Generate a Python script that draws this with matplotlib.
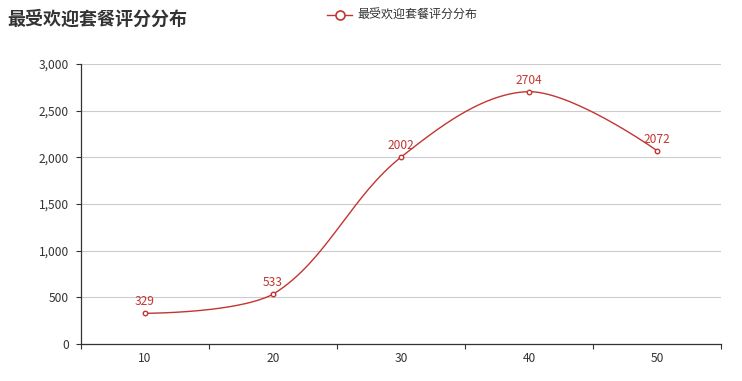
import numpy as np
import matplotlib
matplotlib.use("Agg")
import matplotlib.pyplot as plt
from matplotlib.lines import Line2D
from matplotlib.ticker import FuncFormatter

plt.rcParams['font.family'] = ['Noto Sans CJK SC', 'DejaVu Sans']

# data
categories = ['10', '20', '30', '40', '50']
values = [329, 533, 2002, 2704, 2072]
series_name = '最受欢迎套餐评分分布'
title = '最受欢迎套餐评分分布'

RED = '#c23531'
W, H = 742, 381
PX = 0.72  # px -> pt at dpi 100


def echarts_smooth(pts, smooth=0.35):
    # bezier smoothing like the echarts line series, done in pixel space
    pts = np.asarray(pts, float)
    lo, hi = pts.min(axis=0), pts.max(axis=0)
    n = len(pts)
    out = [pts[0]]
    cp0 = pts[0].copy()
    t = np.linspace(0, 1, 60)[1:, None]
    for i in range(1, n):
        p = pts[i]
        if i + 1 < n:
            prev, nxt = pts[i - 1], pts[i + 1]
            v = nxt - prev
            lp = np.hypot(*(p - prev))
            ln = np.hypot(*(p - nxt))
            r = ln / (ln + lp)
            cp1 = p - v * smooth * (1 - r)
        else:
            v = np.zeros(2)
            r = 0.5
            cp1 = p.copy()
        cp0 = np.clip(cp0, lo, hi)
        cp1 = np.clip(cp1, lo, hi)
        seg = ((1 - t) ** 3) * pts[i - 1] + 3 * ((1 - t) ** 2) * t * cp0 \
            + 3 * (1 - t) * t ** 2 * cp1 + t ** 3 * p
        out.extend(seg)
        cp0 = p + v * smooth * r
    return np.array(out)


fig = plt.figure(figsize=(W / 100, H / 100), dpi=100)
ax = fig.add_axes([81 / W, (H - 344) / H, 640 / W, 280 / H])

x = np.arange(len(categories))
ax.set_xlim(-0.5, len(categories) - 0.5)
ax.set_ylim(0, 3000)

# smooth curve computed in display coords
disp = ax.transData.transform(np.column_stack([x, values]))
curve = ax.transData.inverted().transform(echarts_smooth(disp))
ax.plot(curve[:, 0], curve[:, 1], color=RED, lw=1.0, zorder=3)
ax.plot(x, values, ls='none', marker='o', ms=4.5 * PX, mfc='white',
        mec=RED, mew=1.0, zorder=4)

for xi, v in zip(x, values):
    ax.annotate(str(v), (xi, v), xytext=(0, 3.5), textcoords='offset points',
                ha='center', va='bottom', color=RED, fontsize=12 * PX)

# axes styling
ax.set_yticks(np.arange(0, 3001, 500))
ax.yaxis.set_major_formatter(FuncFormatter(lambda v, p: f'{int(v):,}'))
ax.grid(axis='y', color='#cccccc', lw=0.8)
ax.set_axisbelow(True)
ax.set_xticks(np.arange(-0.5, len(categories), 1.0))
ax.set_xticklabels([])
ax.set_xticks(x, minor=True)
ax.set_xticklabels(categories, minor=True)
ax.tick_params(axis='x', which='minor', length=0, pad=6, labelsize=12 * PX,
               labelcolor='#333333')
ax.tick_params(axis='x', which='major', length=5 * PX, color='#333333',
               width=0.8)
ax.tick_params(axis='y', length=5 * PX, color='#333333', width=0.8,
               labelsize=12 * PX, labelcolor='#333333', pad=5)
for s in ['top', 'right']:
    ax.spines[s].set_visible(False)
for s in ['left', 'bottom']:
    ax.spines[s].set_color('#333333')
    ax.spines[s].set_linewidth(0.9)

# title
fig.text(7 / W, 1 - 19 / H, title, fontsize=18 * PX, fontweight='bold',
         color='#333333', va='center', ha='left')

# legend
ly = 1 - 15 / H
fig.add_artist(Line2D([327 / W, 352 / W], [ly, ly], color=RED, lw=1.0,
                      transform=fig.transFigure))
fig.add_artist(Line2D([339.5 / W], [ly], marker='o', ms=9 * PX, mfc='white',
                      mec=RED, mew=1.2, transform=fig.transFigure))
fig.text(357 / W, ly, series_name, fontsize=12 * PX, color='#333333',
         va='center', ha='left')

fig.savefig('out.png', dpi=100)
